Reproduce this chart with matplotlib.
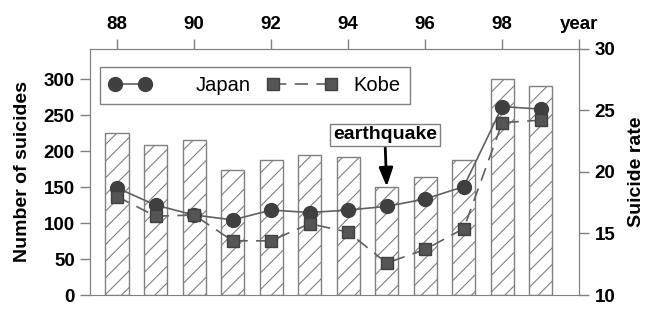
import numpy as np
import matplotlib
matplotlib.use("Agg")
import matplotlib.pyplot as plt
from matplotlib.legend_handler import HandlerLine2D

plt.rcParams['font.family'] = ['Liberation Sans', 'DejaVu Sans']
plt.rcParams['hatch.color'] = '#808080'
plt.rcParams['hatch.linewidth'] = 0.8

# datos
years = [88, 89, 90, 91, 92, 93, 94, 95, 96, 97, 98, 99]
suicides = [225, 208, 215, 174, 188, 195, 191, 150, 164, 187, 300, 290]
japan_rate = [18.7, 17.3, 16.5, 16.1, 16.9, 16.7, 16.9, 17.2, 17.8, 18.8, 25.3, 25.1]
kobe_rate = [18.0, 16.4, 16.5, 14.4, 14.4, 15.8, 15.1, 12.6, 13.7, 15.4, 24.0, 24.2]
top_ticks = [88, 90, 92, 94, 96, 98, 100]
top_labels = ['88', '90', '92', '94', '96', '98', 'year']

gris = '#808080'
oscuro = '#404040'


class HandlerCorto(HandlerLine2D):
    # acorta la muestra de la leyenda (Japan es mas corta que Kobe)
    def __init__(self, factor, **kw):
        super().__init__(**kw)
        self.factor = factor

    def create_artists(self, legend, orig_handle, xdescent, ydescent,
                       width, height, fontsize, trans):
        return super().create_artists(legend, orig_handle, xdescent, ydescent,
                                      width * self.factor, height, fontsize, trans)


fig = plt.figure(figsize=(6.48, 3.24), dpi=100)
ax = fig.add_axes([0.139, 0.0895, 0.755, 0.76])

ax.bar(years, suicides, width=0.6, color='white', edgecolor=gris,
       linewidth=1.0, hatch='//', zorder=1)
ax.set_xlim(87.3, 100)
ax.set_ylim(0, 342)
ax.set_yticks([0, 50, 100, 150, 200, 250, 300])
ax.set_ylabel('Number of suicides', fontsize=14, fontweight='bold', labelpad=9)

ax.xaxis.tick_top()
ax.set_xticks(top_ticks)
ax.set_xticklabels(top_labels)

ax2 = ax.twinx()
l1, = ax2.plot(years, japan_rate, '-', color='#606060', lw=1.2, marker='o',
               markersize=10, markerfacecolor=oscuro, markeredgecolor=oscuro,
               label='Japan', zorder=3)
l2, = ax2.plot(years, kobe_rate, '--', color='#606060', lw=1.2, dashes=(8, 5),
               marker='s', markersize=9, markerfacecolor='#555555',
               markeredgecolor=oscuro, label='Kobe', zorder=3)
ax2.set_ylim(10, 30)
ax2.set_yticks([10, 15, 20, 25, 30])
ax2.set_ylabel('Suicide rate', fontsize=14, fontweight='bold', labelpad=9)

for a in (ax, ax2):
    for s in a.spines.values():
        s.set_color(gris)
    a.tick_params(colors=gris, labelcolor='black', labelsize=13.5,
                  length=7, width=1, pad=4)
    for t in a.get_xticklabels() + a.get_yticklabels():
        t.set_fontweight('bold')
ax2.spines['bottom'].set_visible(False)

leg = ax2.legend(loc='upper left', bbox_to_anchor=(0.0204, 0.927),
                 borderaxespad=0, ncol=2, numpoints=2, handlelength=3.5,
                 columnspacing=0.8, handletextpad=0.8, fancybox=False,
                 edgecolor=gris, fontsize=14.5, borderpad=0.45, framealpha=1,
                 handler_map={l1: HandlerCorto(0.6, numpoints=2)})
leg.get_frame().set_linewidth(1.0)

ax2.annotate('earthquake', xy=(95, 18.8), xytext=(94.95, 23.0),
             ha='center', va='center', fontsize=14, fontweight='bold',
             bbox=dict(boxstyle='square,pad=0.15', fc='white', ec=gris, lw=1),
             arrowprops=dict(arrowstyle='-|>,head_length=0.8,head_width=0.3',
                             color='black', lw=2, shrinkA=0, shrinkB=0))

fig.savefig('out.png', dpi=100)
